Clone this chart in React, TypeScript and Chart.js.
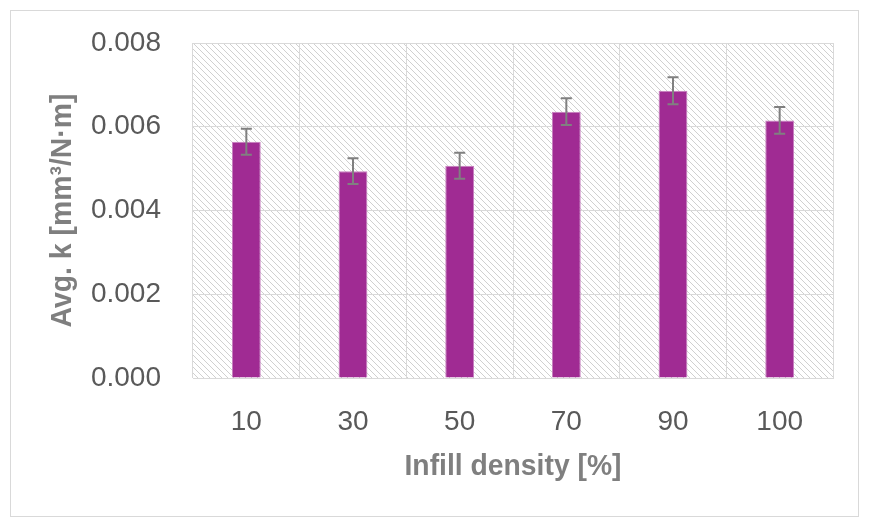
import { useEffect, useRef } from "react"
import { Chart, registerables } from "chart.js"

Chart.register(...registerables)

// data
const densities = ["10", "30", "50", "70", "90", "100"]
const avgK = [0.00564, 0.00494, 0.00507, 0.00636, 0.00686, 0.00615]
const errK = [0.00031, 0.00031, 0.00031, 0.00032, 0.00032, 0.00032]
const yTicks = [0, 0.002, 0.004, 0.006, 0.008]

const tickFont = "'Liberation Sans', Arial, sans-serif"
const titleFont = "'Liberation Sans', Arial, sans-serif"

function makeHatch(ctx: CanvasRenderingContext2D) {
    const size = 6
    const c = document.createElement("canvas")
    c.width = size
    c.height = size
    const g = c.getContext("2d")!
    g.fillStyle = "#ffffff"
    g.fillRect(0, 0, size, size)
    g.strokeStyle = "#d0d0d0"
    g.lineWidth = 1
    g.beginPath()
    g.moveTo(-1, -1)
    g.lineTo(size + 1, size + 1)
    g.moveTo(-1, size - 1)
    g.lineTo(1, size + 1)
    g.moveTo(size - 1, -1)
    g.lineTo(size + 1, 1)
    g.stroke()
    return ctx.createPattern(c, "repeat")
}

// draws text squeezed horizontally to a given width (stands in for a narrow face)
function narrowText(ctx: CanvasRenderingContext2D, text: string, x: number, y: number, width: number, angle: number) {
    ctx.save()
    ctx.translate(x, y)
    ctx.rotate(angle)
    const w = ctx.measureText(text).width
    ctx.scale(width / w, 1)
    ctx.fillText(text, 0, 0)
    ctx.restore()
}

const decorPlugin = {
    id: "decor",
    beforeDraw(chart: any) {
        const { ctx, chartArea, width, height } = chart
        ctx.save()
        ctx.fillStyle = "#ffffff"
        ctx.fillRect(0, 0, width, height)
        ctx.strokeStyle = "#d9d9d9"
        ctx.lineWidth = 1
        ctx.strokeRect(10.5, 10.5, width - 21, height - 21)
        const pat = makeHatch(ctx)
        if (pat) {
            ctx.fillStyle = pat
            ctx.fillRect(chartArea.left, chartArea.top, chartArea.right - chartArea.left, chartArea.bottom - chartArea.top)
        }
        ctx.restore()
    },
    afterDraw(chart: any) {
        const { ctx, chartArea } = chart
        ctx.save()
        ctx.fillStyle = "#7f7f7f"
        ctx.font = `bold 29px ${titleFont}`
        ctx.textAlign = "center"
        ctx.textBaseline = "middle"
        narrowText(ctx, "Infill density [%]", (chartArea.left + chartArea.right) / 2, 467, 217, 0)
        narrowText(ctx, "Avg. k [mm³/N·m]", 63, (chartArea.top + chartArea.bottom) / 2, 234, -Math.PI / 2)
        ctx.restore()
    },
}

const errorBarPlugin = {
    id: "errorBars",
    afterDatasetsDraw(chart: any) {
        const { ctx } = chart
        const yScale = chart.scales.y
        const meta = chart.getDatasetMeta(0)
        ctx.save()
        ctx.strokeStyle = "#808080"
        ctx.lineWidth = 2
        meta.data.forEach((bar: any, i: number) => {
            const x = bar.x
            const top = yScale.getPixelForValue(avgK[i] + errK[i])
            const bottom = yScale.getPixelForValue(avgK[i] - errK[i])
            ctx.beginPath()
            ctx.moveTo(x, top)
            ctx.lineTo(x, bottom)
            ctx.moveTo(x - 5.5, top)
            ctx.lineTo(x + 5.5, top)
            ctx.moveTo(x - 5.5, bottom)
            ctx.lineTo(x + 5.5, bottom)
            ctx.stroke()
        })
        ctx.restore()
    },
}

export default function App() {
    const chartRef = useRef<HTMLCanvasElement>(null)
    const chartInstance = useRef<Chart | null>(null)

    useEffect(() => {
        document.body.style.margin = "0"
        if (!chartRef.current) return
        const ctx = chartRef.current.getContext("2d")
        if (!ctx) return

        if (chartInstance.current) chartInstance.current.destroy()

        chartInstance.current = new Chart(ctx, {
            type: "bar",
            data: {
                labels: densities,
                datasets: [
                    {
                        data: avgK,
                        backgroundColor: "#a02b93",
                        borderColor: "#c77fbf",
                        borderWidth: 1,
                        categoryPercentage: 1,
                        barPercentage: 0.27,
                    },
                ],
            },
            options: {
                responsive: false,
                animation: false,
                layout: { padding: { top: 43, right: 36, left: 0, bottom: 0 } },
                plugins: {
                    legend: { display: false },
                    tooltip: { enabled: false },
                },
                scales: {
                    x: {
                        grid: { color: "#d9d9d9", drawTicks: false, offset: true },
                        border: { color: "#d9d9d9" },
                        ticks: {
                            color: "#595959",
                            font: { family: tickFont, size: 28 },
                            padding: 27,
                        },
                        afterFit: (scale: any) => {
                            scale.height = 149
                        },
                    },
                    y: {
                        min: 0,
                        max: 0.008,
                        // invisible tick marks keep the labels away from the plot
                        grid: { color: "#d9d9d9", drawTicks: true, tickLength: 29, tickColor: "rgba(0,0,0,0)" },
                        border: { display: false },
                        afterBuildTicks: (scale: any) => {
                            scale.ticks = yTicks.map((v) => ({ value: v }))
                        },
                        ticks: {
                            color: "#595959",
                            font: { family: tickFont, size: 28 },
                            padding: 3,
                            callback: (value: any) => Number(value).toFixed(3),
                        },
                        afterFit: (scale: any) => {
                            scale.width = 193
                        },
                    },
                },
            },
            plugins: [decorPlugin, errorBarPlugin],
        })

        return () => {
            if (chartInstance.current) {
                chartInstance.current.destroy()
                chartInstance.current = null
            }
        }
    }, [])

    return (
        <div style={{ width: 869, height: 527 }}>
            <canvas ref={chartRef} width={869} height={527}></canvas>
        </div>
    )
}
